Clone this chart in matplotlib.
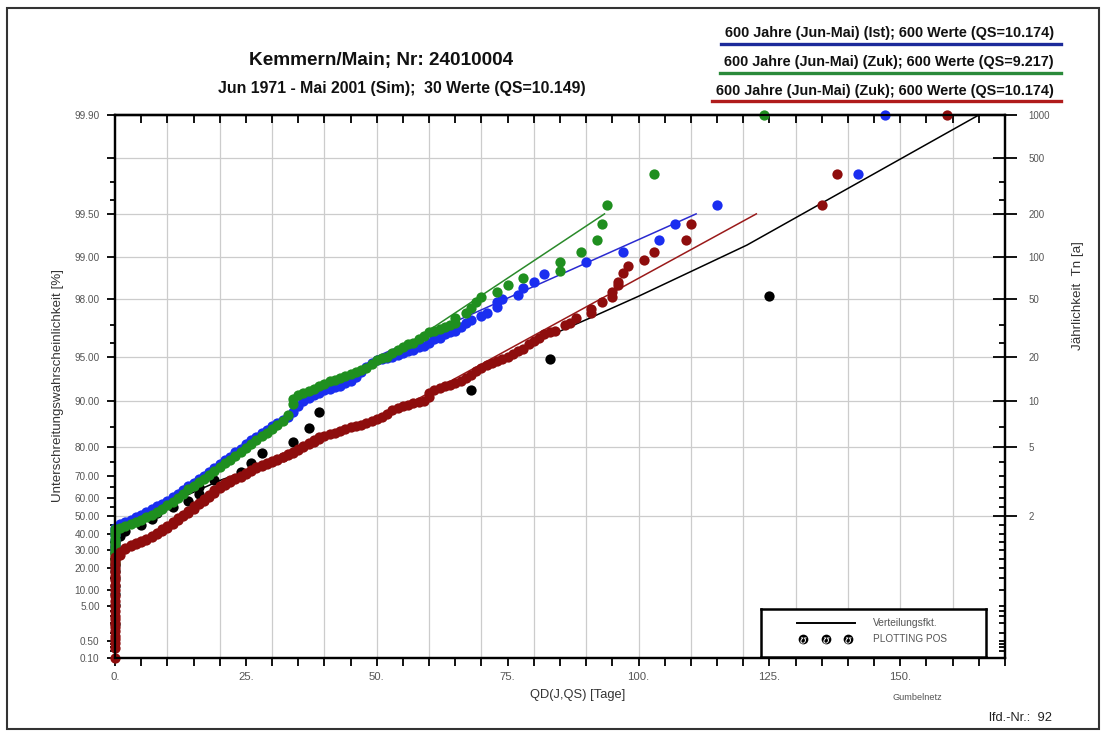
import numpy as np
import matplotlib
matplotlib.use("Agg")
import matplotlib.pyplot as plt
from matplotlib.patches import Rectangle
from matplotlib.lines import Line2D
from matplotlib.ticker import FixedLocator, FixedFormatter, NullFormatter, MultipleLocator

plt.rcParams['font.family'] = ['Liberation Sans', 'DejaVu Sans']

# ---------------- data ----------------
title = "Kemmern/Main; Nr: 24010004"
subtitle = "Jun 1971 - Mai 2001 (Sim);  30 Werte (QS=10.149)"
legend_labels = ["600 Jahre (Jun-Mai) (Ist); 600 Werte (QS=10.174)",
                 "600 Jahre (Jun-Mai) (Zuk); 600 Werte (QS=9.217)",
                 "600 Jahre (Jun-Mai) (Zuk); 600 Werte (QS=10.174)"]
x_label = "QD(J,QS) [Tage]"
y_label = "Unterschreitungswahrscheinlichkeit [%]"
y2_label = "J\u00e4hrlichkeit  Tn [a]"

x_ticks = [0, 25, 50, 75, 100, 125, 150]
left_labeled_p = [99.9, 99.5, 99.0, 98.0, 95.0, 90.0, 80.0, 70.0, 60.0, 50.0,
                  40.0, 30.0, 20.0, 10.0, 5.0, 0.5, 0.1]
left_minor_p = [99.7, 99.6, 97.0, 96.0, 85.0, 75.0, 65.0, 55.0, 45.0, 35.0,
                25.0, 15.0, 4.0, 3.0, 2.0, 1.0, 0.4, 0.3, 0.2]
right_T = [1000, 500, 200, 100, 50, 20, 10, 5, 2]

# (QD [Tage], Unterschreitungswahrscheinlichkeit [%])
black_points = [(0, 1.86), (0, 5.18), (0, 8.5), (0, 11.8), (0, 15.1), (0, 18.5), (0, 21.8),
                (0, 25.1), (0, 28.4), (0, 31.7), (0, 35.1), (1, 38.4), (2, 41.7), (5, 45.0),
                (7, 48.3), (8, 51.7), (11, 55.0), (14, 58.3), (16, 61.6), (16, 64.9),
                (19, 68.3), (24, 71.6), (26, 74.9), (28, 78.2), (34, 81.5), (37, 84.9),
                (39, 88.2), (68, 91.5), (83, 94.8), (125, 98.1)]

blue_points = [(0, 30), (0, 33), (0, 36), (0, 39), (0, 41.5), (0, 43.5),
               (1, 45.5), (2, 46.7), (3, 48), (4, 49.5), (5, 51), (6, 52.5), (7, 54), (8, 55.5),
               (9, 57), (10, 58.5), (11, 60.2), (12, 62), (13, 63.7), (14, 65.5), (15, 67),
               (16, 68.5), (17, 70), (18, 71.5), (19, 73), (20, 74.4), (21, 75.7), (22, 77),
               (23, 78.3), (24, 79.5), (25, 80.7), (26, 81.8), (27, 82.7), (28, 83.6),
               (29, 84.4), (30, 85.2), (31, 86), (32, 86.6), (33, 87.2), (34, 88.2),
               (35, 89.2), (36, 89.9), (37, 90.4), (38, 90.8), (39, 91.2), (40, 91.5),
               (41, 91.7), (42, 91.9), (43, 92.1), (44, 92.4), (45, 92.7), (46, 93.1),
               (47, 93.6), (48, 94.1), (49, 94.5), (50, 94.7), (51, 94.8), (52, 94.9),
               (53, 95.0), (54, 95.1), (55, 95.3), (56, 95.4), (57, 95.5), (58, 95.7),
               (59, 95.8), (60, 96.0), (61, 96.2), (62, 96.3), (63, 96.5), (64, 96.6),
               (65, 96.7), (66, 96.9), (67, 97.1), (68, 97.2), (70, 97.4), (71, 97.5),
               (73, 97.75), (73, 97.9), (74, 98.0), (77, 98.15), (78, 98.34), (80, 98.5),
               (82, 98.68), (90, 98.91), (97, 99.07), (104, 99.24), (107, 99.41),
               (115, 99.57), (142, 99.74), (147, 99.9)]

green_points = [(0, 23), (0, 25), (0, 27), (0, 29), (0, 31), (0, 33), (0, 35), (0, 37),
                (0, 39), (0, 41), (0, 42.5),
                (1, 43.5), (2, 44.5), (3, 45.5), (4, 46.7), (5, 48), (6, 49.5), (7, 51),
                (8, 52.5), (9, 54.2), (10, 56), (11, 58), (12, 60), (13, 62), (14, 64),
                (15, 65.7), (16, 67.3), (17, 68.8), (18, 70.3), (19, 71.8), (20, 73.3),
                (21, 74.7), (22, 76), (23, 77.3), (24, 78.5), (25, 79.7), (26, 80.8),
                (27, 81.9), (28, 82.9), (29, 83.8), (30, 84.7), (31, 85.5), (32, 86.3),
                (33, 87.5), (34, 89.5), (34, 90.2), (35, 90.8), (36, 91.1), (37, 91.4),
                (38, 91.7), (39, 92.0), (40, 92.3), (41, 92.6), (42, 92.8), (43, 93.0),
                (44, 93.2), (45, 93.4), (46, 93.6), (47, 93.8), (48, 94.0), (49, 94.4),
                (50, 94.7), (51, 94.9), (52, 95.0), (53, 95.3), (54, 95.5), (55, 95.7),
                (56, 95.9), (57, 96.0), (58, 96.2), (59, 96.4), (60, 96.6), (61, 96.7),
                (62, 96.8), (63, 96.9), (64, 97.0), (65, 97.1), (65, 97.3), (67, 97.5),
                (68, 97.7), (69, 97.9), (70, 98.08), (73, 98.24), (75, 98.41), (78, 98.58),
                (85, 98.74), (85, 98.91), (89, 99.07), (92, 99.24), (93, 99.41),
                (94, 99.57), (103, 99.74), (124, 99.9)]

red_points = [(0, 0.09), (0, 0.26), (0, 0.43), (0, 0.6), (0, 0.76), (0, 1.1), (0, 1.5),
              (0, 2), (0, 2.5), (0, 3), (0, 4), (0, 5), (0, 6.5), (0, 8), (0, 10), (0, 12),
              (0, 14), (0, 16), (0, 18), (0, 20), (0, 22), (0, 24), (0, 26),
              (1, 27.5), (1, 29), (2, 30.5), (2, 31.5), (3, 32.5), (3, 33), (4, 33.8),
              (4, 34.5), (5, 35), (5, 35.8), (6, 36.3), (6, 37), (7, 37.7), (7, 38.5),
              (8, 39.5), (8, 40.5), (9, 41.5), (9, 42.5), (10, 43.5), (10, 44.5),
              (11, 45.5), (11, 47), (12, 48), (12, 49), (13, 50), (13, 51), (14, 52),
              (14, 53), (15, 54), (15, 55.5), (16, 56.5), (16, 57.5), (17, 58.5),
              (17, 59.5), (18, 60.5), (18, 61.5), (19, 62.5), (19, 63.5), (20, 64.5),
              (20, 65.5), (21, 66), (21, 67), (22, 67.5), (22, 68), (23, 68.5), (23, 69),
              (24, 69.5), (24, 70), (25, 70.5), (25, 71.2), (26, 71.8), (26, 72.2),
              (27, 72.8), (27, 73.2), (28, 73.6), (28, 74), (29, 74.5), (29, 74.8),
              (30, 75.2), (30, 75.5), (31, 76), (31, 76.3), (32, 76.7), (32, 77),
              (33, 77.4), (33, 77.7), (34, 78.2), (34, 78.6), (35, 79), (35, 79.5),
              (36, 80), (36, 80.3), (37, 80.7), (37, 81), (38, 81.4), (38, 81.8),
              (39, 82.2), (39, 82.6), (40, 83), (41, 83.4), (42, 83.8), (43, 84.2),
              (44, 84.6), (45, 85), (46, 85.3), (47, 85.6), (48, 85.9), (49, 86.3),
              (50, 86.7), (51, 87.2), (52, 87.8), (53, 88.4), (54, 88.9), (55, 89.2),
              (56, 89.4), (57, 89.6), (58, 89.8), (59, 90.0), (60, 90.6), (60, 91.2),
              (61, 91.5), (62, 91.8), (63, 92.0), (64, 92.2), (65, 92.4), (66, 92.7),
              (67, 93.0), (68, 93.3), (69, 93.7), (70, 94.0), (71, 94.3), (72, 94.5),
              (73, 94.6), (74, 94.8), (75, 95.0), (76, 95.2), (77, 95.4), (78, 95.6),
              (79, 95.9), (80, 96.1), (81, 96.3), (82, 96.5), (83, 96.6), (84, 96.7),
              (86, 97.0), (87, 97.1), (88, 97.3), (91, 97.5), (91, 97.65), (93, 97.9),
              (95, 98.08), (95, 98.24), (96, 98.41), (96, 98.5), (97, 98.69), (98, 98.83),
              (101, 98.94), (103, 99.07), (109, 99.24), (110, 99.41), (135, 99.57),
              (138, 99.74), (159, 99.9)]

# fitted distribution curves (Verteilungsfkt.)
black_fit = [(0, 44), (9.7, 56.5), (20.5, 68.4), (30, 75.0), (40, 82.0), (50, 86.8),
             (60, 90.6), (67, 93.0), (80, 96.0), (90.7, 97.3), (100, 98.1),
             (120.7, 99.17), (165, 99.9)]
blue_fit = [(0, 43), (5, 51), (10, 58.5), (15, 67), (20, 74.4), (25, 80.7), (30, 85.2),
            (35, 88.8), (40, 91.3), (45, 93.2), (50, 95.0), (111, 99.5)]
green_fit = [(0, 42), (5, 48), (10, 56), (15, 65.7), (20, 73.3), (25, 79.7), (30, 84.7),
             (35, 89), (40, 92), (50, 94.3), (93.5, 99.5)]
red_fit = [(0, 27), (5, 35.5), (10, 44), (15, 55), (20, 64.5), (25, 70.5), (30, 75),
           (40, 82), (50, 86.3), (122.5, 99.5)]

# ---------------- style ----------------
BLUE, GREEN, RED, BLACK = '#1a2ef0', '#1f8f1f', '#8e0d0d', '#000000'
BLUE_L, GREEN_L, RED_L = '#2a2ad0', '#2a8a2a', '#9a1a1a'
UL_COLORS = ['#1c2a9a', '#2a8a3a', '#b01c1c']
TICK_C = '#555555'
LAB_C = '#333333'
GRID_C = '#cccccc'

W, H = 1105, 731
def fx(px):
    return px / W
def fy(py):
    return 1 - py / H

def fwd(p):
    p = np.clip(np.asarray(p, dtype=float), 1e-4, 100 - 1e-4) / 100.0
    return -np.log(-np.log(p))

def inv(g):
    return 100.0 * np.exp(-np.exp(-np.asarray(g, dtype=float)))

fig = plt.figure(figsize=(11.05, 7.31), dpi=100)
ax = fig.add_axes([fx(115), fy(657.5), fx(1005) - fx(115), fy(115) - fy(657.5)])
ax.set_yscale('function', functions=(fwd, inv))
ax.set_xlim(0, 170)
ax.set_ylim(0.1, 99.9)

# grid
for v in range(10, 170, 10):
    ax.axvline(v, color=GRID_C, lw=0.9, zorder=0)
for T in right_T[1:]:
    ax.axhline(100.0 * (1 - 1.0 / T), color=GRID_C, lw=0.9, zorder=0)

# fit lines
for pts, col in [(black_fit, BLACK), (blue_fit, BLUE_L), (green_fit, GREEN_L), (red_fit, RED_L)]:
    xs, ps = zip(*pts)
    ax.plot(xs, ps, '-', color=col, lw=1.1, zorder=2, clip_on=False)

# plotting positions
for z, (pts, col) in enumerate([(black_points, BLACK), (blue_points, BLUE),
                                (green_points, GREEN), (red_points, RED)]):
    xs, ps = zip(*pts)
    ax.plot(xs, ps, 'o', color=col, ms=7.4, mew=0, zorder=3 + z, clip_on=False)

# left axis ticks
left_major = sorted(left_labeled_p + [99.8], reverse=True)
left_major_labels = [("%.2f" % p) if p in left_labeled_p else "" for p in left_major]
ax.yaxis.set_major_locator(FixedLocator(left_major))
ax.yaxis.set_major_formatter(FixedFormatter(left_major_labels))
ax.yaxis.set_minor_locator(FixedLocator(left_minor_p))
ax.yaxis.set_minor_formatter(NullFormatter())
ax.tick_params(axis='y', which='major', direction='out', length=5.5, width=1.3,
               labelsize=7.2, labelcolor=TICK_C, pad=5.5)
ax.tick_params(axis='y', which='minor', direction='out', length=3.8, width=1.3)

# x axis ticks
ax.xaxis.set_major_locator(FixedLocator(x_ticks))
ax.xaxis.set_major_formatter(FixedFormatter(["%d." % v for v in x_ticks]))
ax.xaxis.set_minor_locator(MultipleLocator(5))
ax.tick_params(axis='x', which='both', direction='out', length=6, width=1.3,
               labelsize=8.2, labelcolor=TICK_C, pad=4.5)
secx = ax.secondary_xaxis('top')
secx.xaxis.set_major_locator(MultipleLocator(5))
secx.xaxis.set_major_formatter(NullFormatter())
secx.tick_params(direction='in', length=6, width=1.3)
secx.spines['top'].set_linewidth(1.6)

for s in ax.spines.values():
    s.set_linewidth(1.6)
    s.set_color('black')

# right axis (return period)
ax2 = ax.twinx()
ax2.set_yscale('function', functions=(fwd, inv))
ax2.set_ylim(0.1, 99.9)
right_p = [100.0 * (1 - 1.0 / T) for T in right_T]
ax2.yaxis.set_major_locator(FixedLocator(right_p))
ax2.yaxis.set_major_formatter(FixedFormatter([str(T) for T in right_T]))
right_minor = [p for p in left_labeled_p + left_minor_p if all(abs(p - q) > 1e-6 for q in right_p)]
ax2.yaxis.set_minor_locator(FixedLocator(right_minor))
ax2.yaxis.set_minor_formatter(NullFormatter())
ax2.tick_params(axis='y', which='major', direction='inout', length=17, width=1.3,
                labelsize=7, labelcolor=TICK_C, pad=8.5)
ax2.tick_params(axis='y', which='minor', direction='in', length=4.5, width=1.3)
for s in ax2.spines.values():
    s.set_linewidth(1.6)

# axis labels
fig.text(fx(58), fy(385), y_label, rotation=90, ha='center', va='center',
         fontsize=9.6, color=LAB_C)
fig.text(fx(1078), fy(296), y2_label, rotation=90, ha='center', va='center',
         fontsize=9.6, color=LAB_C)
fig.text(fx(578), fy(695), x_label, ha='center', va='center', fontsize=9.3, color=LAB_C)

# titles
fig.text(fx(381), fy(61), title, ha='center', va='center', fontsize=13.7,
         fontweight='bold', color='#111111')
fig.text(fx(402), fy(88), subtitle, ha='center', va='center', fontsize=11.4,
         fontweight='bold', color='#111111')

# series legend at top right
leg_y = [33, 62, 91]
ul_y = [44, 73, 101]
ul_x0 = [721, 720, 712]
for lab, ty, uy, x0, c in zip(legend_labels, leg_y, ul_y, ul_x0, UL_COLORS):
    fig.text(fx(1054), fy(ty), lab, ha='right', va='center', fontsize=10.4,
             fontweight='bold', color='#111111')
    fig.add_artist(Line2D([fx(x0), fx(1061)], [fy(uy), fy(uy)], color=c, lw=2.4))

# small texts
fig.text(fx(917), fy(697), "Gumbelnetz", ha='center', va='center', fontsize=6.6, color=TICK_C)
fig.text(fx(989), fy(718), "lfd.-Nr.:  92", ha='left', va='center', fontsize=9.3, color='#222222')

# inner legend box
lax = fig.add_axes([fx(761), fy(657), fx(986) - fx(761), fy(609) - fy(657)])
lax.set_xlim(761, 986)
lax.set_ylim(657, 609)
lax.set_xticks([])
lax.set_yticks([])
for s in lax.spines.values():
    s.set_linewidth(1.8)
lax.plot([797, 855], [623, 623], color='black', lw=1.4)
lax.text(873, 623, "Verteilungsfkt.", va='center', ha='left', fontsize=7.4, color=TICK_C)
for sx in [803, 826, 848]:
    lax.plot(sx, 639, 'o', color='black', ms=7, mew=0)
    lax.plot(sx, 639.5, marker='$\u028a$', color='white', ms=4.5, mew=0)
lax.text(873, 639, "PLOTTING POS", va='center', ha='left', fontsize=7.2, color=TICK_C)

# outer frame
fig.add_artist(Rectangle((fx(7), fy(729)), fx(1099) - fx(7), fy(8) - fy(729),
                         transform=fig.transFigure, fill=False, lw=1.5, ec='#333333'))

fig.savefig('out.png', dpi=100)
